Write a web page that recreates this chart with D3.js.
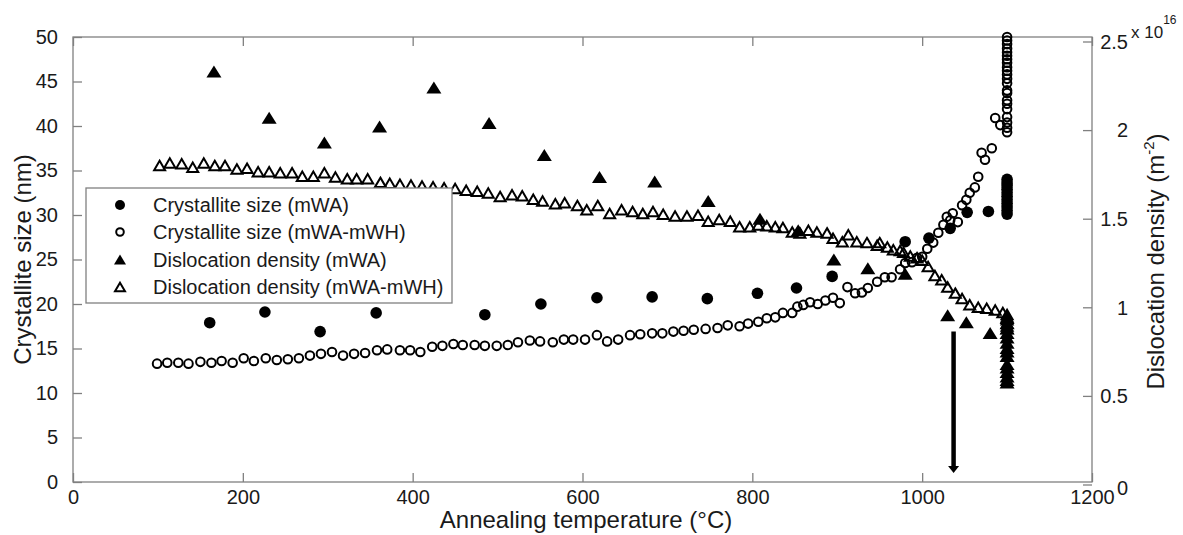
<!DOCTYPE html>
<html>
<head>
<meta charset="utf-8">
<script src="https://cdn.jsdelivr.net/npm/d3@7"></script>
<style>
  html, body { margin: 0; padding: 0; background: #fff; }
  svg { display: block; font-family: "Liberation Sans", Arial, sans-serif; }
</style>
</head>
<body>
<svg id="chart" width="1183" height="535"></svg>
<script>
// ---------------- data ----------------
// Crystallite size (mWA), nm  — filled circles
const sizeMWA_T = [161, 226, 291, 357, 485, 551, 617, 682, 747, 806, 852, 894, 980, 1008, 1033, 1053, 1078,
  1100, 1100, 1100, 1100, 1100, 1100, 1100, 1100, 1100, 1100, 1100];
const sizeMWA_V = [17.9, 19.1, 16.9, 19.0, 18.8, 20.0, 20.7, 20.8, 20.6, 21.2, 21.8, 23.1, 27.0, 27.4, 28.5, 30.3, 30.4,
  34.0, 33.6, 33.3, 32.9, 32.5, 32.1, 31.7, 31.3, 30.9, 30.5, 30.1];

// Crystallite size (mWA-mWH), nm — open circles
const sizeMWH_T = [99, 111, 124, 136, 150, 163, 175, 188, 201, 213, 227, 240, 253, 266, 279, 292, 305, 318, 331, 344,
  358, 370, 385, 397, 409, 423, 435, 448, 459, 473, 485, 499, 512, 524, 538, 550, 565, 578, 589, 603, 617, 629,
  642, 656, 668, 682, 694, 707, 719, 731, 745, 759, 771, 785, 795, 807, 817, 827, 836, 847, 853, 860, 868, 877,
  886, 895, 903, 912, 921, 929, 936, 947, 956, 964, 974, 980, 988, 994, 1000, 1006, 1013, 1019, 1025, 1029,
  1033, 1036, 1042, 1047, 1052, 1056, 1062, 1066, 1070, 1074, 1082, 1086, 1092,
  1100, 1100, 1100, 1100, 1100, 1100, 1100, 1100, 1100, 1100, 1100, 1100, 1100, 1100, 1100, 1100, 1100,
  1100, 1100, 1100, 1100, 1100];
const sizeMWH_V = [13.3, 13.4, 13.4, 13.3, 13.5, 13.4, 13.6, 13.4, 13.9, 13.6, 13.9, 13.7, 13.8, 13.9, 14.2, 14.4,
  14.6, 14.2, 14.4, 14.5, 14.8, 14.9, 14.8, 14.8, 14.6, 15.2, 15.3, 15.5, 15.4, 15.4, 15.3, 15.3, 15.4, 15.7, 15.9,
  15.8, 15.7, 16.0, 16.0, 16.0, 16.5, 15.8, 16.0, 16.5, 16.6, 16.7, 16.7, 16.9, 17.0, 17.1, 17.2, 17.3, 17.6,
  17.5, 17.8, 18.0, 18.4, 18.5, 19.0, 19.0, 19.7, 19.9, 20.2, 20.0, 20.4, 20.7, 20.1, 21.9, 21.2, 21.3, 21.8,
  22.5, 23.0, 23.0, 23.9, 24.6, 24.7, 25.2, 25.3, 26.2, 26.9, 28.0, 28.9, 29.8, 29.4, 30.2, 29.2, 31.1, 31.7,
  32.5, 33.1, 34.3, 37.0, 36.2, 37.5, 40.9, 40.1,
  50.0, 49.6, 49.2, 48.7, 48.3, 47.9, 47.5, 47.1, 46.6, 46.2, 45.8, 45.3, 44.8, 44.0, 43.7, 42.9, 42.5,
  41.9, 41.0, 40.4, 39.8, 39.3];

// Dislocation density (mWA), 10^16 m^-2 — filled triangles
const densMWA_T = [166, 231, 296, 361, 425, 490, 555, 620, 685, 748, 809, 854, 896, 936, 980, 1030, 1052, 1080,
  1100, 1100, 1100, 1100, 1100, 1100, 1100, 1100, 1100, 1100, 1100, 1100, 1100, 1100, 1100];
const densMWA_V = [2.33, 2.07, 1.93, 2.02, 2.24, 2.04, 1.86, 1.735, 1.71, 1.60, 1.50, 1.435, 1.27, 1.22, 1.19, 0.955,
  0.915, 0.855,
  0.94, 0.91, 0.88, 0.855, 0.83, 0.80, 0.77, 0.75, 0.725, 0.68, 0.66, 0.635, 0.61, 0.59, 0.575];

// Dislocation density (mWA-mWH), 10^16 m^-2 — open triangles
const densMWH_T = [102, 114, 128, 141, 154, 167, 179, 193, 205, 218, 231, 244, 258, 270, 283, 296, 309, 323, 334,
  347, 362, 373, 385, 398, 411, 424, 437, 450, 463, 476, 489, 503, 517, 529, 542, 553, 568, 579, 594, 605, 618,
  632, 646, 659, 671, 683, 695, 709, 723, 736, 748, 761, 774, 785, 797, 807, 817, 827, 836, 847, 856, 866, 876,
  888, 895, 906, 913, 923, 935, 947, 950, 959, 966, 974, 978, 986, 994, 1000, 1007, 1015, 1023, 1030, 1039,
  1047, 1056, 1066, 1076, 1086, 1095, 1100, 1100, 1100, 1100, 1100, 1100];
const densMWH_V = [1.80, 1.815, 1.81, 1.79, 1.815, 1.80, 1.80, 1.78, 1.785, 1.765, 1.765, 1.76, 1.76, 1.74, 1.74,
  1.76, 1.735, 1.725, 1.725, 1.725, 1.705, 1.70, 1.695, 1.69, 1.685, 1.68, 1.675, 1.67, 1.66, 1.655, 1.645,
  1.625, 1.635, 1.63, 1.61, 1.60, 1.585, 1.59, 1.575, 1.55, 1.575, 1.53, 1.55, 1.54, 1.53, 1.54, 1.525, 1.515,
  1.515, 1.52, 1.485, 1.495, 1.485, 1.455, 1.455, 1.465, 1.46, 1.455, 1.45, 1.425, 1.42, 1.435, 1.425, 1.42,
  1.39, 1.37, 1.41, 1.37, 1.365, 1.35, 1.365, 1.34, 1.325, 1.32, 1.31, 1.29, 1.28, 1.265, 1.23, 1.18, 1.155,
  1.115, 1.08, 1.05, 1.015, 1.00, 0.995, 0.985, 0.97, 0.96, 0.945, 0.93, 0.91, 0.895, 0.88];

const xTicks = [0, 200, 400, 600, 800, 1000, 1200];
const yLeftTicks = [0, 5, 10, 15, 20, 25, 30, 35, 40, 45, 50];
const yRightTicks = [0, 0.5, 1, 1.5, 2, 2.5];
const legendLabels = ["Crystallite size (mWA)", "Crystallite size (mWA-mWH)",
  "Dislocation density (mWA)", "Dislocation density (mWA-mWH)"];
// arrow annotation (temperature, crystallite-size units)
const arrowT = [1037, 1037];
const arrowV = [16.9, 1.0];

// ---------------- drawing ----------------
const svg = d3.select("#chart");
const L = 73, R = 1092, T = 37, B = 482;
const x = d3.scaleLinear().domain([0, 1200]).range([L, R]);
const yL = d3.scaleLinear().domain([0, 50]).range([B, T]);
const yR = d3.scaleLinear().domain([0, 2.5]).range([484.5, 41.5]);

const axisColor = "#808080";
const textColor = "#1a1a1a";

// frame
svg.append("rect").attr("x", L).attr("y", T).attr("width", R - L).attr("height", B - T)
  .attr("fill", "none").attr("stroke", axisColor).attr("stroke-width", 1.3);

// x axis ticks (inside, bottom and top)
const gx = svg.append("g").attr("transform", `translate(0,${B})`)
  .call(d3.axisBottom(x).tickValues(xTicks).tickSizeInner(-9).tickSizeOuter(0).tickFormat(d3.format("d")));
const gxt = svg.append("g").attr("transform", `translate(0,${T})`)
  .call(d3.axisTop(x).tickValues(xTicks).tickSizeInner(-9).tickSizeOuter(0).tickFormat(""));
const gy = svg.append("g").attr("transform", `translate(${L},0)`)
  .call(d3.axisLeft(yL).tickValues(yLeftTicks).tickSizeInner(-9).tickSizeOuter(0).tickPadding(15));
const gyr = svg.append("g").attr("transform", `translate(${R},0)`)
  .call(d3.axisRight(yR).tickValues(yRightTicks).tickSizeInner(-9).tickSizeOuter(0)
    .tickFormat(d => String(d)));

[gx, gxt, gy, gyr].forEach(g => {
  g.select(".domain").remove();
  g.selectAll(".tick line").attr("stroke", axisColor).attr("stroke-width", 1.3);
  g.selectAll(".tick text").attr("fill", textColor).attr("font-size", 20)
    .attr("font-family", "Liberation Sans, Arial, sans-serif");
});
gx.selectAll(".tick text").attr("dy", "0.71em").attr("y", 8);
// right tick labels: right-aligned at fixed x
gyr.selectAll(".tick text").attr("text-anchor", "end").attr("x", 1128 - R).attr("dy", "0.34em");
gyr.selectAll(".tick").filter(d => d === 0).select("text").attr("dy", "0.5em");

// exponent label
const expo = svg.append("text").attr("x", 1131).attr("y", 38).attr("fill", textColor)
  .attr("font-size", 17);
expo.append("tspan").text("x 10");
expo.append("tspan").attr("font-size", 12).attr("dy", -14).text("16");

// axis titles
svg.append("text").attr("x", 586).attr("y", 528).attr("text-anchor", "middle")
  .attr("font-size", 24).attr("fill", textColor).text("Annealing temperature (°C)");
svg.append("text").attr("transform", `translate(31,${(T + B) / 2}) rotate(-90)`)
  .attr("text-anchor", "middle").attr("font-size", 24).attr("fill", textColor)
  .text("Crystallite size (nm)");
const rt = svg.append("text").attr("transform", `translate(1164,${(T + B) / 2 + 2}) rotate(-90)`)
  .attr("text-anchor", "middle").attr("font-size", 24).attr("fill", textColor);
rt.append("tspan").text("Dislocation density (m");
rt.append("tspan").attr("font-size", 15).attr("dy", -10).text("-2");
rt.append("tspan").attr("dy", 10).text(")");

// marker helpers
function triPath(w, h) {
  return `M0,${-h / 2}L${w / 2},${h / 2}L${-w / 2},${h / 2}Z`;
}
const plot = svg.append("g");

// open circles (mWA-mWH size)
plot.append("g").selectAll("circle").data(d3.zip(sizeMWH_T, sizeMWH_V)).join("circle")
  .attr("cx", d => x(d[0])).attr("cy", d => yL(d[1])).attr("r", 4.3)
  .attr("fill", "none").attr("stroke", "#000").attr("stroke-width", 2);

// open triangles (mWA-mWH density)
plot.append("g").selectAll("path").data(d3.zip(densMWH_T, densMWH_V)).join("path")
  .attr("transform", d => `translate(${x(d[0])},${yR(d[1])})`)
  .attr("d", triPath(11, 9.5))
  .attr("fill", "none").attr("stroke", "#000").attr("stroke-width", 2).attr("stroke-linejoin", "miter");

// filled circles (mWA size)
plot.append("g").selectAll("circle").data(d3.zip(sizeMWA_T, sizeMWA_V)).join("circle")
  .attr("cx", d => x(d[0])).attr("cy", d => yL(d[1])).attr("r", 5.8).attr("fill", "#000");

// filled triangles (mWA density)
plot.append("g").selectAll("path").data(d3.zip(densMWA_T, densMWA_V)).join("path")
  .attr("transform", d => `translate(${x(d[0])},${yR(d[1])})`)
  .attr("d", triPath(15, 12)).attr("fill", "#000");

// arrow
const ax = x(arrowT[0]), ay0 = yL(arrowV[0]), ay1 = yL(arrowV[1]);
svg.append("line").attr("x1", ax).attr("x2", ax).attr("y1", ay0).attr("y2", ay1 - 5)
  .attr("stroke", "#000").attr("stroke-width", 4.5);
svg.append("path").attr("d", `M${ax - 5.5},${ay1 - 7}L${ax + 5.5},${ay1 - 7}L${ax},${ay1}Z`).attr("fill", "#000");

// legend
const lg = svg.append("g");
lg.append("rect").attr("x", 86).attr("y", 188).attr("width", 366).attr("height", 115)
  .attr("fill", "#fff").attr("stroke", axisColor).attr("stroke-width", 1.3);
const rowsY = [205, 232, 259.5, 287];
const lx = 120;
lg.append("circle").attr("cx", lx).attr("cy", rowsY[0]).attr("r", 5).attr("fill", "#000");
lg.append("circle").attr("cx", lx).attr("cy", rowsY[1]).attr("r", 3.8).attr("fill", "none")
  .attr("stroke", "#000").attr("stroke-width", 2);
lg.append("path").attr("transform", `translate(${lx},${rowsY[2]})`).attr("d", triPath(12, 10)).attr("fill", "#000");
lg.append("path").attr("transform", `translate(${lx},${rowsY[3]})`).attr("d", triPath(10, 8.5))
  .attr("fill", "none").attr("stroke", "#000").attr("stroke-width", 2);
legendLabels.forEach((t, i) => {
  lg.append("text").attr("x", 153).attr("y", rowsY[i]).attr("dy", "0.35em")
    .attr("font-size", 20).attr("fill", textColor).text(t);
});
</script>
</body>
</html>
